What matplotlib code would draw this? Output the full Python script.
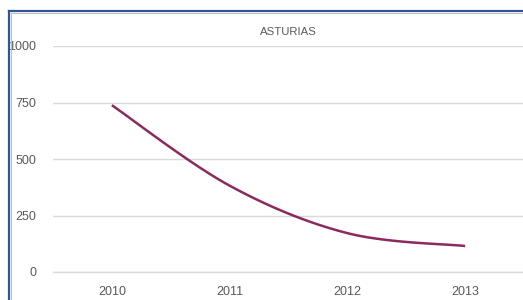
import numpy as np
import matplotlib
matplotlib.use("Agg")
import matplotlib.pyplot as plt
from matplotlib.lines import Line2D

years = ["2010", "2011", "2012", "2013"]
values = [738, 382, 172, 115]
yticks = [0, 250, 500, 750, 1000]
title = "ASTURIAS"

W, H = 523, 300
fig = plt.figure(figsize=(W / 100, H / 100), dpi=100)
fig.patch.set_facecolor("white")

# outer chart frame (blue with grey inner edge)
fig.add_artist(Line2D([9 / W, 9 / W], [0, 1 - 11 / H], transform=fig.transFigure,
                      color="#2E5597", lw=1.6))
fig.add_artist(Line2D([9 / W, 1], [1 - 11 / H, 1 - 11 / H], transform=fig.transFigure,
                      color="#2E5597", lw=1.6))
fig.add_artist(Line2D([11 / W, 11 / W], [0, 1 - 13 / H], transform=fig.transFigure,
                      color="#BFBFBF", lw=0.8))
fig.add_artist(Line2D([11 / W, 1], [1 - 13 / H, 1 - 13 / H], transform=fig.transFigure,
                      color="#BFBFBF", lw=0.8))

left, right = 53 / W, 524 / W
bottom, top = 1 - 272 / H, 1 - 46 / H
ax = fig.add_axes([left, bottom, right - left, top - bottom])
ax.set_facecolor("none")

x = np.arange(len(values))
y = np.array(values, dtype=float)

# Excel-style smoothed line (cubic Bezier through the points)
px, py = [], []
n = len(x)
for i in range(n - 1):
    p0 = np.array([x[max(i - 1, 0)], y[max(i - 1, 0)]])
    p1 = np.array([x[i], y[i]])
    p2 = np.array([x[i + 1], y[i + 1]])
    p3 = np.array([x[min(i + 2, n - 1)], y[min(i + 2, n - 1)]])
    c1 = p1 + (p2 - p0) / 6.0
    c2 = p2 - (p3 - p1) / 6.0
    t = np.linspace(0, 1, 40)[:, None]
    b = ((1 - t) ** 3) * p1 + 3 * ((1 - t) ** 2) * t * c1 + 3 * (1 - t) * t ** 2 * c2 + t ** 3 * p2
    px.extend(b[:, 0])
    py.extend(b[:, 1])

ax.plot(px, py, color="#8C2A5E", lw=1.8, solid_capstyle="butt", zorder=3)

ax.set_xlim(-0.5, len(values) - 0.5)
ax.set_ylim(0, 1000)
ax.set_yticks(yticks)
ax.set_yticklabels([str(v) for v in yticks])
ax.set_xticks(x)
ax.set_xticklabels(years)
ax.grid(axis="y", color="#D9D9D9", lw=1.0)
ax.grid(axis="x", visible=False)
ax.axhline(0, color="#D9D9D9", lw=1.0, clip_on=False, zorder=1)
for s in ax.spines.values():
    s.set_visible(False)
ax.tick_params(axis="both", length=0, labelsize=9, labelcolor="#595959")
ax.tick_params(axis="y", pad=12)
ax.tick_params(axis="x", pad=10)
for lbl in ax.get_xticklabels() + ax.get_yticklabels():
    lbl.set_family(["Liberation Sans", "DejaVu Sans"])

fig.text((53 + 523) / 2 / W, 1 - 32 / H, title, ha="center", va="center",
         fontsize=8.2, color="#595959", family=["Liberation Sans", "DejaVu Sans"])

fig.savefig("out.png", dpi=100)
